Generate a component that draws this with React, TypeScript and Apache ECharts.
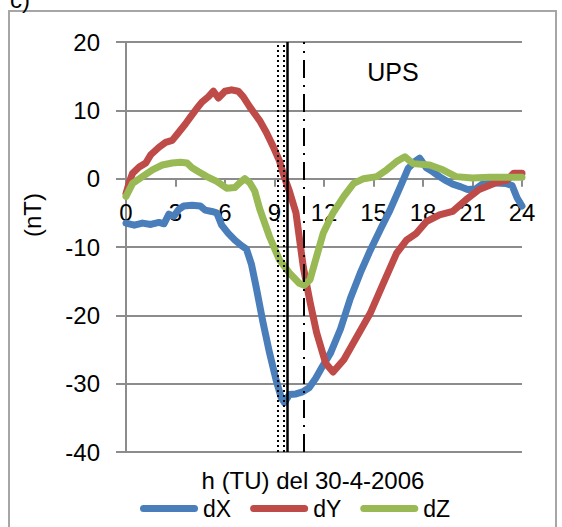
import React, { useEffect, useRef } from "react";
import * as echarts from "echarts";

const xTicks = { min: 0, max: 24, interval: 3 };
const yTicks = { min: -40, max: 20, interval: 10 };

const dX: [number, number][] = [
  [0, -6.5], [0.5, -6.8], [1, -6.5], [1.5, -6.7], [2, -6.4], [2.3, -6.6], [2.6, -5.2], [2.9, -5.5],
  [3.2, -4.5], [3.5, -4.0], [4.0, -3.9], [4.5, -4.0], [4.8, -4.6], [5.2, -4.8], [5.5, -5.0], [5.8, -6.8],
  [6.2, -8.0], [6.6, -9.0], [7.0, -9.8], [7.3, -10.3], [7.6, -12.5], [7.9, -16], [8.3, -21], [8.7, -25.5],
  [9.1, -29.5], [9.4, -32], [9.6, -32.8], [9.9, -31.6], [10.3, -31.5], [10.7, -31.2], [11.1, -30.6],
  [11.5, -29.2], [11.9, -27.5], [12.4, -25.5], [13, -22], [13.6, -17.5], [14.2, -13.8], [14.8, -10.5],
  [15.4, -7.5], [16, -4.6], [16.6, -1.3], [17.1, 1.5], [17.5, 2.5], [17.8, 3.0], [18.2, 1.6], [18.6, 1.0],
  [19, 0.3], [19.4, -0.3], [19.8, -0.8], [20.3, -1.2], [20.7, -1.6], [21.2, -1.5], [21.6, -0.8],
  [22.2, -0.6], [23, -0.7], [23.4, -1.0], [23.7, -2.8], [24, -4.0],
];

const dY: [number, number][] = [
  [0, -2.2], [0.2, -0.5], [0.4, 0.8], [0.8, 1.7], [1.2, 2.3], [1.5, 3.5], [2.0, 4.6], [2.4, 5.3],
  [2.8, 5.6], [3.2, 6.8], [3.6, 8.0], [3.9, 9.0], [4.3, 10.3], [4.6, 11.2], [5.0, 12.0], [5.3, 12.8],
  [5.6, 11.8], [6.0, 12.8], [6.4, 13.0], [6.8, 12.8], [7.1, 12.0], [7.5, 10.5], [7.8, 9.5], [8.1, 8.5],
  [8.5, 6.8], [8.9, 4.8], [9.3, 2.6], [9.6, 0.2], [9.9, -1.8], [10.3, -5], [10.75, -13], [11.15, -18],
  [11.55, -22.5], [12.1, -27], [12.55, -28.3], [13.2, -26.5], [14, -23.1], [14.8, -19.7], [15.6, -15.3],
  [16.4, -10.9], [17, -9], [17.6, -8], [18.2, -6.3], [19, -5.3], [19.8, -4.8], [20.6, -3.1], [21.4, -1.6],
  [22.3, -0.7], [23.1, -0.2], [23.5, 0.8], [24, 0.8],
];

const dZ: [number, number][] = [
  [0, -2.6], [0.4, -0.7], [1.0, 0.3], [1.6, 1.3], [2.2, 2.0], [2.8, 2.3], [3.3, 2.4], [3.7, 2.3],
  [4.0, 1.6], [4.4, 1.0], [4.9, 0.3], [5.5, -0.4], [6.1, -1.4], [6.6, -1.3], [6.9, -0.6], [7.2, 0.0],
  [7.5, -0.6], [7.8, -1.8], [8.1, -4.4], [8.7, -8.5], [9.3, -11.9], [9.9, -13.8], [10.5, -15.3],
  [10.8, -15.6], [11.15, -14.8], [11.55, -11.4], [11.95, -8], [12.55, -5], [13.2, -2.6], [13.8, -0.7],
  [14.4, 0], [15.2, 0.3], [15.8, 1.3], [16.4, 2.5], [16.9, 3.2], [17.4, 2.2], [18.4, 2.0], [19.2, 1.3],
  [20, 0.3], [21, 0.1], [22, 0.2], [23, 0.2], [24, 0.2],
];

const dottedHours = [9.2, 9.55];
const solidHour = 9.8;
const dashDotHour = 10.75;

const seriesNames = ["dX", "dY", "dZ"];
const colors = ["#4a7ebb", "#be4b48", "#98b954"];
const xTitle = "h (TU) del 30-4-2006";
const yTitle = "(nT)";
const stationLabel = "UPS";
const panelLabel = "c)";

const FONT = "'Liberation Sans', Arial, sans-serif";
const GRID_GRAY = "#8c8c8c";

const GRID = { left: 126, right: 40, top: 42, bottom: 75 };
const CHART_H = 527;

export default function App() {
  const ref = useRef<HTMLDivElement>(null);
  useEffect(() => {
    if (!ref.current) return;
    document.body.style.margin = "0";
    const chart = echarts.init(ref.current, undefined, { renderer: "svg" });
    const pill = "path://M3.5,0 L54.5,0 A3.5,3.5 0 0 1 54.5,7 L3.5,7 A3.5,3.5 0 0 1 3.5,0 Z";
    const markData: any[] = [
      ...dottedHours.map((h) => ({
        xAxis: h,
        lineStyle: { color: "#000", width: 2, type: [2, 3] },
      })),
      { xAxis: solidHour, lineStyle: { color: "#000", width: 2.5, type: "solid" } },
      { xAxis: dashDotHour, lineStyle: { color: "#000", width: 2, type: [18, 7, 2, 7] } },
    ];
    const dataSets = [dX, dY, dZ];
    // distance from grid bottom to the y = 0 line, so the x axis sits on zero
    const gridH = CHART_H - GRID.top - GRID.bottom;
    const zeroOffset = -(gridH * (0 - yTicks.min)) / (yTicks.max - yTicks.min);
    chart.setOption({
      animation: false,
      textStyle: { fontFamily: FONT },
      grid: GRID,
      xAxis: {
        type: "value",
        min: xTicks.min,
        max: xTicks.max,
        interval: xTicks.interval,
        position: "bottom",
        offset: zeroOffset,
        axisLine: { onZero: false, lineStyle: { color: GRID_GRAY, width: 2 } },
        axisTick: { show: true, inside: false, length: 8, lineStyle: { color: GRID_GRAY, width: 2 } },
        axisLabel: { color: "#000", fontSize: 24, fontFamily: FONT, margin: 22 },
        splitLine: { show: false },
      },
      yAxis: {
        type: "value",
        min: yTicks.min,
        max: yTicks.max,
        interval: yTicks.interval,
        axisLine: { show: true, onZero: false, lineStyle: { color: GRID_GRAY, width: 2 } },
        axisTick: { show: true, inside: false, length: 10, lineStyle: { color: GRID_GRAY, width: 2 } },
        axisLabel: { color: "#000", fontSize: 24, fontFamily: FONT, margin: 26 },
        splitLine: { show: true, lineStyle: { color: GRID_GRAY, width: 2 } },
      },
      legend: {
        data: seriesNames,
        left: 135,
        top: 492,
        itemWidth: 58,
        itemHeight: 7,
        itemGap: 19,
        icon: pill,
        textStyle: { color: "#000", fontSize: 23, fontFamily: FONT },
      },
      graphic: [
        {
          type: "rect",
          shape: { x: 9, y: 11, width: 547, height: 540 },
          style: { fill: "none", stroke: "#a6a6a6", lineWidth: 2 },
          silent: true,
        },
        {
          type: "text",
          x: 10,
          y: 11,
          style: { text: panelLabel, fontSize: 24, fontFamily: FONT, fill: "#000", verticalAlign: "bottom" },
        },
        {
          type: "text",
          x: 393,
          y: 72,
          style: { text: stationLabel, fontSize: 25, fontFamily: FONT, fill: "#000", align: "center", verticalAlign: "middle" },
        },
        {
          type: "text",
          x: 313,
          y: 480,
          style: { text: xTitle, fontSize: 24, fontFamily: FONT, fill: "#000", align: "center", verticalAlign: "middle" },
        },
        {
          type: "text",
          x: 32,
          y: 215,
          rotation: Math.PI / 2,
          style: { text: yTitle, fontSize: 24, fontFamily: FONT, fill: "#000", align: "center", verticalAlign: "middle" },
        },
      ],
      series: [
        ...seriesNames.map((name, i) => ({
          name,
          type: "line",
          data: dataSets[i],
          symbol: "none",
          smooth: false,
          color: colors[i],
          lineStyle: { color: colors[i], width: 7, join: "round", cap: "round" },
          z: 2 + i,
        })),
        {
          name: "marks",
          type: "line",
          data: [],
          symbol: "none",
          markLine: { silent: true, symbol: "none", label: { show: false }, data: markData, z: 10 },
        },
      ],
    });
    return () => chart.dispose();
  }, []);
  return <div ref={ref} style={{ width: 562, height: 527 }} />;
}
